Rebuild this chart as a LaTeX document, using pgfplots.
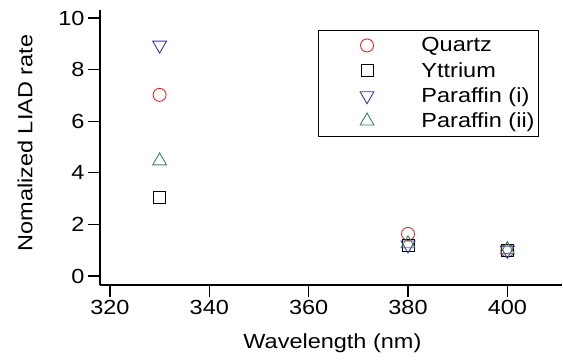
\documentclass[border=0pt]{standalone}
\usepackage{fontspec}
\setmainfont{Liberation Sans}[FakeStretch=1.15]
\usepackage{pgfplots}
\pgfplotsset{compat=1.18}
\definecolor{qred}{RGB}{232,40,44}
\definecolor{pblue}{RGB}{58,58,160}
\definecolor{pgreen}{RGB}{60,135,90}
\begin{document}
\begin{tikzpicture}
\path[use as bounding box] (0,0) rectangle (563bp,360bp);
\begin{axis}[
  at={(100bp,75bp)}, anchor=south west,
  scale only axis, width=462bp, height=275bp,
  xmin=318, xmax=411, ymin=-0.35, ymax=10.31,
  axis x line=bottom, axis y line=left,
  axis line style={-, line width=1.2bp},
  every tick/.style={black, line width=1.2bp},
  tick align=outside, major tick length=12bp,
  xtick={320,340,...,400}, ytick={0,2,...,10},
  minor tick num=0,
  /pgf/number format/assume math mode=true,
  tick label style={font=\fontsize{20.5}{24}\selectfont},
  every axis x label/.style={at={(axis description cs:0.503,-0.211)},anchor=center,font=\fontsize{20.5}{24}\selectfont},
  every axis y label/.style={at={(axis description cs:-0.162,0.516)},rotate=90,anchor=center,font=\fontsize{20.5}{24}\selectfont},
  xlabel={Wavelength (nm)},
  ylabel={Nomalized LIAD rate},
  legend style={at={(0.472,0.927)}, anchor=north west, draw=black, line width=1bp,
    font=\fontsize{20.5}{22}\selectfont, inner xsep=2bp, inner ysep=5bp, row sep=5bp,
    cells={anchor=west}},
  mylegend/.style={legend image code/.code={\draw[##1] plot coordinates {(0bp,0bp)}; \path (-46bp,0bp) (52bp,0bp);}},
]
\addplot[only marks, mark=o, mark size=6.5bp, qred, line width=0.9bp, mylegend] coordinates {(330,7.02) (380,1.63) (400,0.98)};
\addlegendentry{Quartz}
\addplot[only marks, mark=square, mark size=6bp, black, line width=0.9bp, mylegend] coordinates {(330,3.06) (380,1.2) (400,1.0)};
\addlegendentry{Yttrium}
\addplot[only marks, mark=triangle, mark options={rotate=180}, mark size=8bp, pblue, line width=0.9bp, mylegend] coordinates {(330,8.95) (380,1.2) (400,1.0)};
\addlegendentry{Paraffin (i)}
\addplot[only marks, mark=triangle, mark size=8bp, pgreen, line width=0.9bp, mylegend] coordinates {(330,4.46) (380,1.25) (400,1.02)};
\addlegendentry{Paraffin (ii)}
\end{axis}
\end{tikzpicture}
\end{document}
